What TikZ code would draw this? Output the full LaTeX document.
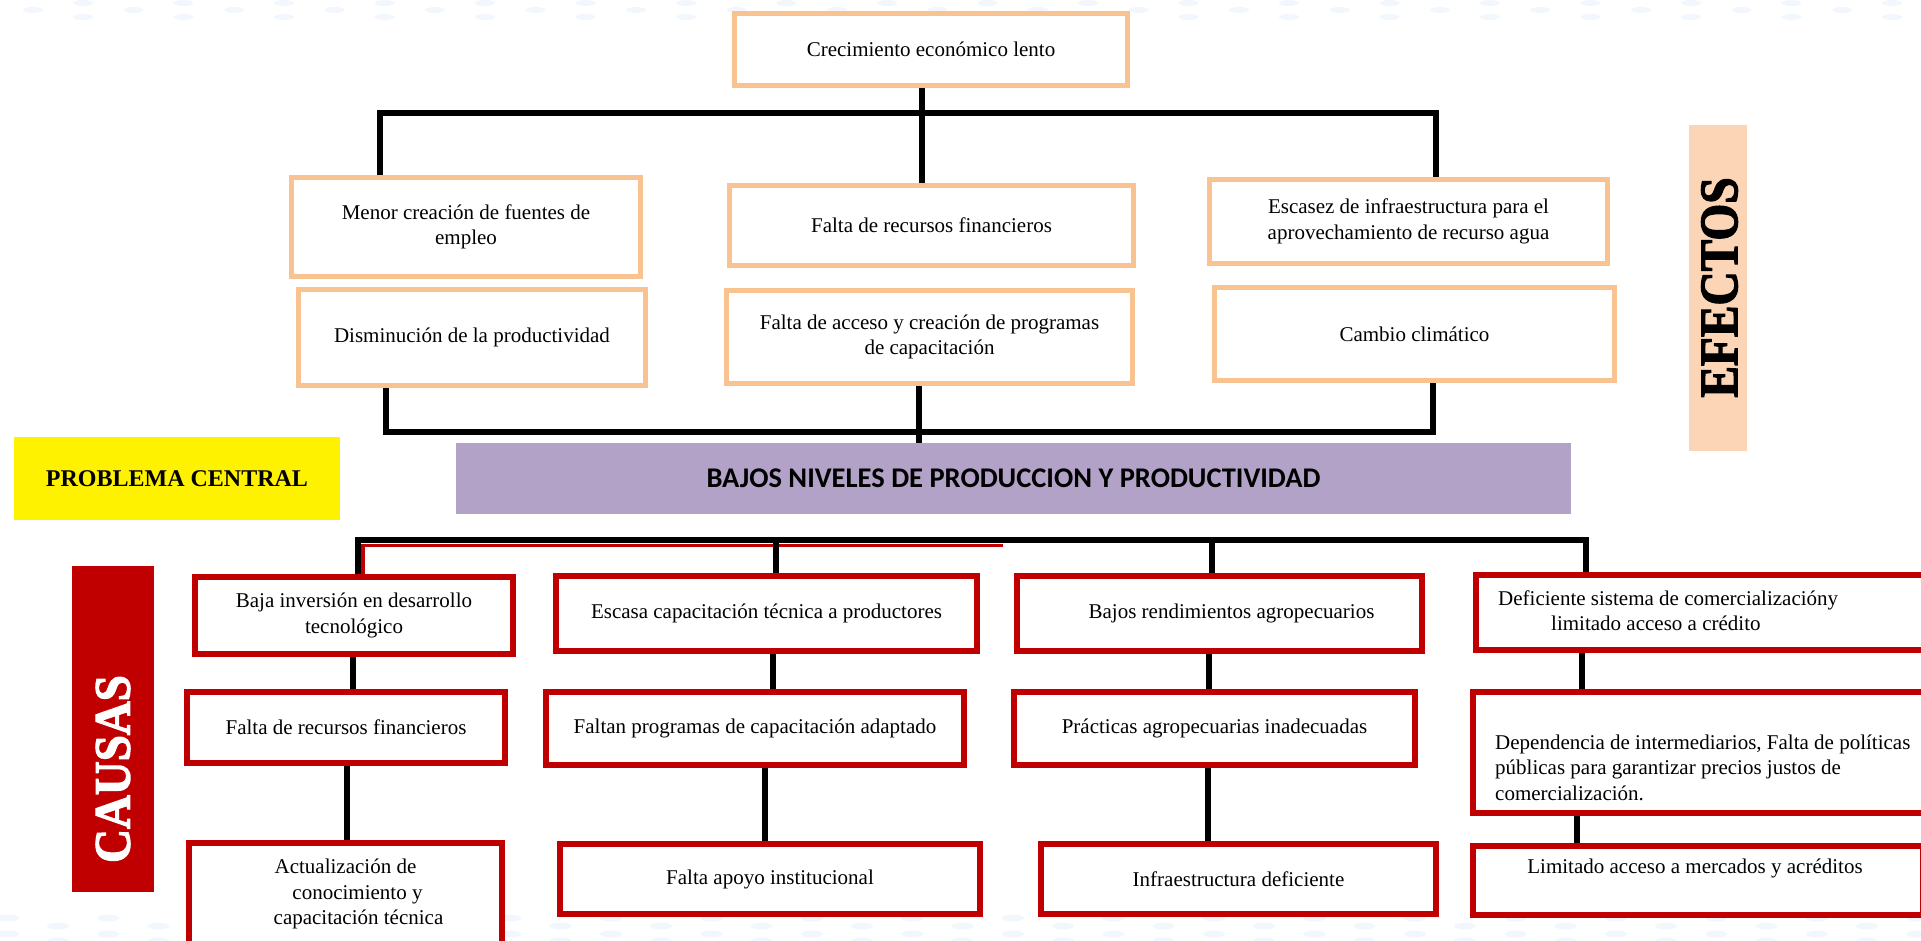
\documentclass[tikz,border=0pt]{standalone}
\usepackage{fontspec}
\setmainfont{Liberation Serif}
\newfontfamily\calib{Carlito}
\newfontfamily\heavy[FakeBold=2.5]{Liberation Serif Bold}
\usepackage{graphicx}
\definecolor{peach}{RGB}{248,194,145}
\definecolor{peachfill}{RGB}{251,213,181}
\definecolor{cred}{RGB}{192,0,0}
\definecolor{lila}{RGB}{178,162,199}
\definecolor{dotc}{RGB}{242,247,253}
\begin{document}
\begin{tikzpicture}[x=1pt,y=-1pt,
  ebox/.style={draw=peach, line width=5pt, fill=white, align=center, inner sep=0pt,
    font=\fontsize{21}{25.5}\selectfont},
  cbox/.style={draw=cred, line width=6pt, fill=white, align=center, inner sep=0pt,
    font=\fontsize{21}{25.5}\selectfont},
  txt/.style={inner sep=0pt, font=\fontsize{21}{25.5}\selectfont},
  con/.style={line width=6pt, black},
  dot/.style={fill=dotc}
]
\useasboundingbox (0,0) rectangle (1921,940);
% faint background dots
\foreach \k in {0,...,19}{
  \fill[dot] ({83+100.5*\k},3) ellipse [x radius=10pt, y radius=3pt];
  \fill[dot] ({33+100.5*\k},10) ellipse [x radius=10pt, y radius=3pt];
  \fill[dot] ({83+100.5*\k},17) ellipse [x radius=10pt, y radius=3pt];
  \fill[dot] ({8+100.5*\k},918) ellipse [x radius=11pt, y radius=3.5pt];
  \fill[dot] ({58+100.5*\k},926) ellipse [x radius=11pt, y radius=3.5pt];
  \fill[dot] ({8+100.5*\k},934) ellipse [x radius=11pt, y radius=3.5pt];
  \fill[dot] ({58+100.5*\k},941) ellipse [x radius=11pt, y radius=3.5pt];
}
% ---------- EFECTOS ----------
\node[ebox, minimum width=393pt, minimum height=72pt] (top) at (931,49.5) {Crecimiento económico lento};
\node[ebox, minimum width=349pt, minimum height=99pt] (menor) at (466,227) {Menor creación de fuentes de\\empleo};
\node[ebox, minimum width=404pt, minimum height=80pt] (frec) at (931.5,225.5) {Falta de recursos financieros};
\node[ebox, minimum width=398pt, minimum height=84pt] (esc) at (1408.5,221.5) {Escasez de infraestructura para el\\aprovechamiento de recurso agua};
\node[ebox, minimum width=347pt, minimum height=96pt] (dism) at (472,337.5) {Disminución de la productividad};
\node[ebox, minimum width=406pt, minimum height=93pt] (facc) at (929.5,337) {Falta de acceso y creación de programas\\de capacitación};
\node[ebox, minimum width=400pt, minimum height=93pt] (camb) at (1414.5,334) {Cambio climático};

\node[fill=peachfill, minimum width=58pt, minimum height=326pt, inner sep=0pt] (efbox) at (1718,288) {};
\node[rotate=90, inner sep=0pt, font=\heavy\fontsize{54}{54}\selectfont] (eftxt) at (1719.5,287.5) {\scalebox{0.877}[1]{EFECTOS}};

\draw[con] (top.south -| 922,0) -- (frec.north -| 922,0);
\draw[con] (menor.north -| 380,0) |- (1436,113) -- (esc.north -| 1436,0);
\draw[con] (dism.south -| 386,0) |- (1433,432) -- (camb.south -| 1433,0);

% ---------- PROBLEMA ----------
\node[fill=yellow, minimum width=326pt, minimum height=83pt, inner sep=0pt,
  font=\bfseries\fontsize{24}{24}\selectfont] (pc) at (177,478.5) {PROBLEMA CENTRAL};
\node[fill=lila, minimum width=1115pt, minimum height=71pt, inner sep=0pt,
  font=\calib\bfseries\fontsize{28.5}{30}\selectfont] (prob) at (1013.5,478.5) {BAJOS NIVELES DE PRODUCCION Y PRODUCTIVIDAD};
\draw[con] (facc.south -| 919,0) -- (prob.north -| 919,0);

% ---------- CAUSAS ----------
\node[fill=cred, minimum width=82pt, minimum height=326pt, inner sep=0pt] (cabox) at (113,729) {};
\node[rotate=90, inner sep=0pt, text=white, font=\heavy\fontsize{51}{51}\selectfont] (catxt) at (113,769) {\scalebox{0.92}[1]{CAUSAS}};

\node[cbox, minimum width=318pt, minimum height=77pt] (baja) at (354,615.5) {Baja inversión en desarrollo\\tecnológico};
\node[cbox, minimum width=421pt, minimum height=75pt] (esca) at (766.5,613.5) {Escasa capacitación técnica a productores};
\node[cbox, minimum width=405pt, minimum height=75pt] (bajr) at (1219.5,613.5) {\hspace*{24pt}Bajos rendimientos agropecuarios};
\node[cbox, minimum width=461pt, minimum height=75pt] (defi) at (1706.5,612.5) {};
\node[txt, anchor=west, align=left] (defitxt) at (1498,610.5) {Deficiente sistema de comercializacióny\\\hspace*{53pt}limitado acceso a crédito};

\node[cbox, minimum width=318pt, minimum height=71pt] (frec2) at (346,727.5) {Falta de recursos financieros};
\node[cbox, minimum width=418pt, minimum height=73pt] (falt) at (755,728.5) {Faltan programas de capacitación adaptado};
\node[cbox, minimum width=401pt, minimum height=73pt] (prac) at (1214.5,728.5) {Prácticas agropecuarias inadecuadas};
\node[cbox, minimum width=464pt, minimum height=121pt] (depe) at (1705,752.5) {};
\node[txt, anchor=west, align=left] (depetxt) at (1495,767.5) {Dependencia de intermediarios, Falta de políticas\\públicas para garantizar precios justos de\\comercialización.};

\node[cbox, minimum width=313pt, minimum height=102pt] (actu) at (345.5,894) {Actualización de\\\hspace*{24pt}conocimiento y\\\hspace*{26pt}capacitación técnica};
\node[cbox, minimum width=420pt, minimum height=70pt] (fapo) at (770,879) {Falta apoyo institucional};
\node[cbox, minimum width=395pt, minimum height=70pt] (infr) at (1238.5,879) {Infraestructura deficiente};
\node[cbox, minimum width=450pt, minimum height=69pt] (limi) at (1698,880.5) {};
\node[txt] (limitxt) at (1695,868) {Limitado acceso a mercados y acréditos};

% connectors of the causes
\draw[cred, line width=4pt] (baja.north -| 363,0) -- (363,545);
\draw[cred, line width=3pt] (361,545) -- (1003,545);
\draw[con] (baja.north -| 358,0) |- (1586,540) -- (defi.north -| 1586,0);
\draw[con] (esca.north -| 776,0) -- (776,540);
\draw[con] (bajr.north -| 1212,0) -- (1212,540);

\draw[con] (baja.south -| 353,0) -- (frec2.north -| 353,0);
\draw[con] (esca.south -| 773,0) -- (falt.north -| 773,0);
\draw[con] (bajr.south -| 1209,0) -- (prac.north -| 1209,0);
\draw[con] (defi.south -| 1582,0) -- (depe.north -| 1582,0);

\draw[con] (frec2.south -| 347,0) -- (actu.north -| 347,0);
\draw[con] (falt.south -| 765,0) -- (fapo.north -| 765,0);
\draw[con] (prac.south -| 1208,0) -- (infr.north -| 1208,0);
\draw[con] (depe.south -| 1577,0) -- (limi.north -| 1577,0);
\end{tikzpicture}
\end{document}
